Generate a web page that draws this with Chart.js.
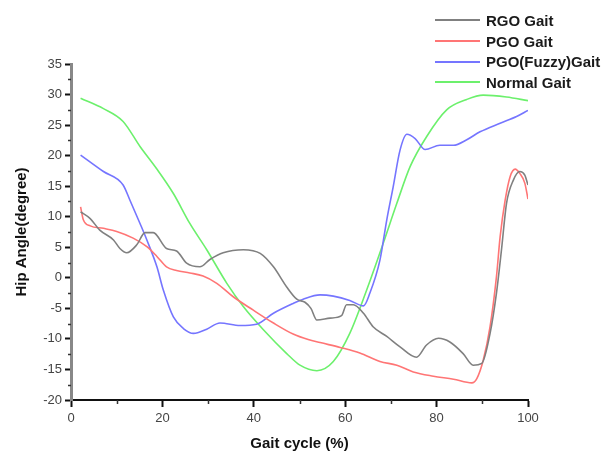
<!DOCTYPE html>
<html>
<head>
<meta charset="utf-8">
<script src="https://cdn.jsdelivr.net/npm/chart.js@4.4.0/dist/chart.umd.min.js"></script>
<style>
	body { margin: 0; background: #fff; }
	#wrap { position: relative; width: 608px; height: 453px; overflow: hidden; }
	#hip-chart { position: absolute; left: 0; top: 0; }
	#legend { position: absolute; left: 435px; top: 10px; font: bold 15px "Liberation Sans", Arial, sans-serif; color: #1a1a1a; white-space: nowrap; }
	#legend .item { display: flex; align-items: center; height: 20.7px; }
	#legend .swatch { display: inline-block; width: 45px; height: 2px; margin-right: 6px; }
</style>
</head>
<body>
<div id="wrap">
	<canvas id="hip-chart" width="608" height="453"></canvas>
	<div id="legend"></div>
</div>
<script>
// [gait cycle %, hip angle in degrees]
const rgoGait = [
	[2.1, 10.8], [4.2, 9.7], [6.3, 7.8], [9.3, 6.2], [10.7, 4.8], [12.2, 4.1], [14.4, 5.4],
	[16.2, 7.4], [18.0, 7.4], [20.9, 4.8], [23.1, 4.4], [25.3, 2.4], [28.2, 1.8], [30.4, 3.0],
	[33.3, 4.1], [37.7, 4.6], [41.4, 4.0], [44.3, 1.8], [47.2, -1.5], [49.4, -3.5], [51.2, -4.0],
	[52.5, -5.0], [53.8, -6.9], [56.7, -6.6], [59.2, -6.2], [60.3, -4.4], [61.8, -4.4], [64.0, -5.8],
	[66.1, -8.0], [69.1, -9.6], [72.0, -11.3], [75.6, -13.0], [77.8, -11.0], [80.4, -9.9], [82.9, -10.5],
	[85.8, -12.4], [88.0, -14.3], [89.9, -14.0], [91.7, -9.1], [93.1, -2.5], [94.2, 4.6], [95.3, 12.2],
	[96.8, 16.0], [98.2, 17.4], [99.3, 16.8], [100, 15.2]
];
const pgoGait = [
	[2.1, 11.6], [2.7, 9.5], [4.2, 8.5], [7.1, 8.1], [10.0, 7.6], [13.6, 6.5], [16.6, 5.1],
	[18.8, 3.5], [20.9, 1.8], [23.1, 1.2], [26.0, 0.8], [28.9, 0.3], [31.9, -0.9], [35.5, -3.1],
	[39.9, -5.3], [44.3, -7.4], [48.6, -9.2], [51.9, -10.1], [54.5, -10.6], [58.9, -11.4], [63.2, -12.3],
	[67.6, -13.7], [71.3, -14.3], [74.9, -15.4], [79.3, -16.1], [83.7, -16.6], [87.7, -17.2], [88.8, -16.5],
	[90.2, -13.5], [91.7, -8.0], [93.1, 0.2], [93.9, 6.7], [95.0, 12.7], [96.1, 16.6], [97.2, 17.8],
	[98.2, 17.1], [99.3, 15.5], [100, 12.9]
];
const pgoFuzzyGait = [
	[2.1, 20.1], [7.1, 17.4], [11.4, 15.2], [12.9, 12.7], [15.1, 8.9], [16.6, 6.2], [18.8, 1.8],
	[20.2, -2.0], [22.4, -6.4], [24.6, -8.3], [26.8, -9.1], [29.7, -8.4], [32.6, -7.4], [37.0, -7.8],
	[40.6, -7.6], [44.3, -5.8], [48.6, -4.2], [50.8, -3.5], [54.5, -2.8], [57.4, -3.0], [61.0, -3.7],
	[64.0, -4.6], [65.4, -2.5], [67.6, 2.9], [69.1, 9.5], [70.5, 14.9], [72.0, 20.9], [73.5, 23.5],
	[75.3, 22.8], [77.5, 21.0], [80.7, 21.7], [83.7, 21.7], [86.6, 22.6], [89.5, 23.9], [93.9, 25.3],
	[97.5, 26.4], [100, 27.4]
];
const normalGait = [
	[2.1, 29.4], [7.1, 27.7], [11.4, 25.6], [15.1, 21.5], [18.7, 17.9], [22.4, 13.8], [26.0, 8.9],
	[29.7, 4.6], [34.1, -0.9], [37.7, -4.7], [42.1, -8.5], [47.2, -12.4], [50.1, -14.3], [53.8, -15.2],
	[57.4, -13.7], [61.0, -9.1], [64.7, -2.0], [68.3, 5.6], [71.3, 12.2], [74.2, 18.2], [77.8, 23.1],
	[82.2, 27.5], [86.6, 29.2], [90.2, 29.9], [95.3, 29.6], [100, 29.0]
];

const seriesLabels = ['RGO Gait', 'PGO Gait', 'PGO(Fuzzy)Gait', 'Normal Gait'];
const seriesColors = ['#808080', '#ff7575', '#7575ff', '#6cf06c'];
const seriesData = [rgoGait, pgoGait, pgoFuzzyGait, normalGait];

const FONT = '"Liberation Sans", Arial, sans-serif';

// short minor ticks between the labelled ones
const minorTicks = {
	id: 'minorTicks',
	afterDraw(chart) {
		const { ctx, chartArea, scales: { x, y } } = chart;
		ctx.save();
		ctx.strokeStyle = '#333';
		ctx.lineWidth = 1.5;
		ctx.beginPath();
		for (let v = -17.5; v < 35; v += 5) {
			const py = Math.round(y.getPixelForValue(v)) + 0.5;
			ctx.moveTo(chartArea.left - 3, py);
			ctx.lineTo(chartArea.left, py);
		}
		for (let v = 10; v < 100; v += 20) {
			const px = Math.round(x.getPixelForValue(v)) + 0.5;
			ctx.moveTo(px, chartArea.bottom);
			ctx.lineTo(px, chartArea.bottom + 4);
		}
		ctx.stroke();
		ctx.restore();
	}
};

new Chart(document.getElementById('hip-chart'), {
	type: 'line',
	data: {
		datasets: seriesData.map((pts, i) => ({
			label: seriesLabels[i],
			data: pts.map(([x, y]) => ({ x, y })),
			borderColor: seriesColors[i],
			backgroundColor: seriesColors[i],
			borderWidth: 1.6,
			pointRadius: 0,
			cubicInterpolationMode: 'monotone',
			fill: false
		}))
	},
	options: {
		responsive: false,
		devicePixelRatio: 1,
		animation: false,
		layout: { padding: { left: 0, top: 64, right: 80, bottom: 0 } },
		plugins: { legend: { display: false }, tooltip: { enabled: false } },
		scales: {
			x: {
				type: 'linear',
				min: 0,
				max: 100,
				afterFit: (s) => { s.height = 53; },
				ticks: { stepSize: 20, color: '#444', padding: 4, font: { family: FONT, size: 13 }, maxRotation: 0 },
				grid: { drawOnChartArea: false, drawTicks: true, tickLength: 7, tickColor: '#111', tickWidth: 2 },
				border: { color: '#111', width: 2 },
				title: { display: true, text: 'Gait cycle (%)', color: '#111', padding: { top: 0, bottom: 0 }, font: { family: FONT, size: 15, weight: 'bold' } }
			},
			y: {
				min: -20,
				max: 35,
				afterFit: (s) => { s.width = 71; },
				ticks: { stepSize: 5, color: '#444', padding: 3, font: { family: FONT, size: 13 } },
				grid: { drawOnChartArea: false, drawTicks: true, tickLength: 6, tickColor: '#111', tickWidth: 2 },
				border: { color: '#888', width: 3 },
				title: { display: true, text: 'Hip Angle(degree)', color: '#111', padding: { top: 13, bottom: 0 }, font: { family: FONT, size: 15, weight: 'bold' } }
			}
		}
	},
	plugins: [minorTicks]
});

// HTML legend, one row per series
document.getElementById('legend').innerHTML = seriesLabels.map((label, i) => `
	<div class="item">
		<span class="swatch" style="background-color: ${seriesColors[i]};"></span>
		<span>${label}</span>
	</div>
`).join('');
</script>
</body>
</html>
